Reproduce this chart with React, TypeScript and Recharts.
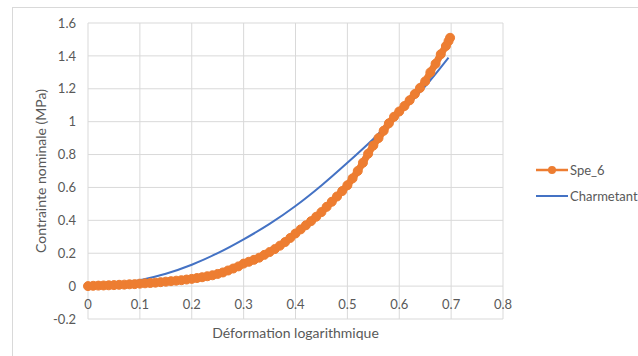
import React from "react";
import { LineChart, Line, XAxis, YAxis, CartesianGrid } from "recharts";

// Spe_6 measured curve (strain, stress)
const speStrain = [
    0, 0.01, 0.02, 0.03, 0.04, 0.05, 0.06, 0.07, 0.08, 0.09,
    0.1, 0.11, 0.12, 0.13, 0.14, 0.15, 0.16, 0.17, 0.18, 0.19,
    0.2, 0.21, 0.22, 0.23, 0.24, 0.25, 0.26, 0.27, 0.28, 0.29,
    0.3, 0.31, 0.32, 0.33, 0.34, 0.35, 0.36, 0.37, 0.38, 0.39,
    0.4, 0.41, 0.42, 0.43, 0.44, 0.45, 0.46, 0.47, 0.48, 0.49,
    0.5, 0.51, 0.52, 0.53, 0.54, 0.55, 0.56, 0.57, 0.58, 0.59,
    0.6, 0.61, 0.62, 0.63, 0.64, 0.65, 0.66, 0.67, 0.68, 0.69,
    0.695, 0.698,
];
const speStress = [
    0, 0.002, 0.003, 0.004, 0.005, 0.006, 0.008, 0.009, 0.011, 0.012,
    0.015, 0.017, 0.019, 0.021, 0.024, 0.027, 0.03, 0.033, 0.036, 0.04,
    0.044, 0.049, 0.054, 0.06, 0.066, 0.074, 0.083, 0.095, 0.107, 0.12,
    0.137, 0.148, 0.16, 0.173, 0.19, 0.207, 0.225, 0.246, 0.268, 0.293,
    0.32, 0.345, 0.37, 0.395, 0.422, 0.45, 0.482, 0.513, 0.545, 0.578,
    0.613, 0.655, 0.7, 0.75, 0.805, 0.855, 0.9, 0.945, 0.99, 1.03,
    1.062, 1.095, 1.13, 1.168, 1.205, 1.245, 1.3, 1.352, 1.41, 1.46,
    1.49, 1.51,
];

// Charmetant model curve
const modelStrain = [0, 0.05, 0.1, 0.15, 0.2, 0.25, 0.3, 0.35, 0.4, 0.45, 0.5, 0.55, 0.6, 0.65, 0.695];
const modelStress = [0, 0.01, 0.036, 0.075, 0.13, 0.2, 0.284, 0.378, 0.487, 0.612, 0.75, 0.895, 1.05, 1.215, 1.39];

const xTicks = [0, 0.1, 0.2, 0.3, 0.4, 0.5, 0.6, 0.7, 0.8];
const yTicks = [-0.2, 0, 0.2, 0.4, 0.6, 0.8, 1, 1.2, 1.4, 1.6];

const speData = speStrain.map((x, i) => ({ x, y: speStress[i] }));
const modelData = modelStrain.map((x, i) => ({ x, y: modelStress[i] }));

const FONT = "Lato, 'Liberation Sans', sans-serif";
const TEXT = "#595959";
const ORANGE = "#ED7D31";
const BLUE = "#4472C4";

const XTick = (props: any) => {
    const { x, y, payload } = props;
    // Excel puts the tick labels at the y=0 crossing, not at the plot bottom
    return (
        <text x={x} y={y - 18} textAnchor="middle" fill={TEXT} fontSize={13} fontFamily={FONT}>
            {payload.value}
        </text>
    );
};

const LegendBox = () => (
    <div style={{ position: "absolute", left: 536, top: 157, fontFamily: FONT, fontSize: 13, color: TEXT }}>
        <div style={{ display: "flex", alignItems: "center", height: 26 }}>
            <svg width={34} height={12}>
                <line x1={0} y1={6} x2={32} y2={6} stroke={ORANGE} strokeWidth={2.5} />
                <circle cx={16} cy={6} r={4} fill={ORANGE} />
            </svg>
            <span>Spe_6</span>
        </div>
        <div style={{ display: "flex", alignItems: "center", height: 26 }}>
            <svg width={34} height={12}>
                <line x1={0} y1={6} x2={32} y2={6} stroke={BLUE} strokeWidth={2} />
            </svg>
            <span>Charmetant</span>
        </div>
    </div>
);

export default function App() {
    return (
        <div style={{ position: "absolute", left: 0, top: 0, width: 638, height: 356, background: "#fff", overflow: "hidden" }}>
            <div style={{ position: "absolute", left: 12, top: 7, width: 640, height: 360, borderLeft: "1px solid #d9d9d9", borderTop: "1px solid #d9d9d9" }} />
            <LineChart width={638} height={356} margin={{ top: 23, right: 135, left: 18, bottom: 12 }}>
                <CartesianGrid stroke="#d9d9d9" strokeWidth={1} />
                <XAxis
                    dataKey="x"
                    type="number"
                    domain={[0, 0.8]}
                    ticks={xTicks}
                    allowDuplicatedCategory={false}
                    axisLine={false}
                    tickLine={false}
                    height={25}
                    tick={<XTick />}
                    label={{
                        content: (p: any) => (
                            <text
                                x={p.viewBox.x + p.viewBox.width / 2}
                                y={p.viewBox.y + 19}
                                textAnchor="middle"
                                fill={TEXT}
                                fontSize={14}
                                fontFamily={FONT}
                            >
                                Déformation logarithmique
                            </text>
                        ),
                    }}
                />
                <YAxis
                    type="number"
                    domain={[-0.2, 1.6]}
                    ticks={yTicks}
                    axisLine={false}
                    tickLine={false}
                    width={70}
                    tickMargin={6}
                    tick={{ fill: TEXT, fontSize: 13, fontFamily: FONT }}
                    label={{
                        content: (p: any) => {
                            const cx = p.viewBox.x + 22;
                            const cy = p.viewBox.y + p.viewBox.height / 2;
                            return (
                                <text
                                    x={cx}
                                    y={cy}
                                    transform={`rotate(-90, ${cx}, ${cy})`}
                                    textAnchor="middle"
                                    dominantBaseline="central"
                                    fill={TEXT}
                                    fontSize={14}
                                    fontFamily={FONT}
                                >
                                    Contrainte nominale (MPa)
                                </text>
                            );
                        },
                    }}
                />
                <Line
                    data={speData}
                    dataKey="y"
                    name="Spe_6"
                    type="linear"
                    stroke={ORANGE}
                    strokeWidth={7}
                    strokeLinejoin="round"
                    dot={{ r: 4.5, fill: ORANGE, stroke: ORANGE, strokeWidth: 1 }}
                    isAnimationActive={false}
                />
                <Line
                    data={modelData}
                    dataKey="y"
                    name="Charmetant"
                    type="monotone"
                    stroke={BLUE}
                    strokeWidth={2}
                    dot={false}
                    isAnimationActive={false}
                />
            </LineChart>
            <LegendBox />
        </div>
    );
}
